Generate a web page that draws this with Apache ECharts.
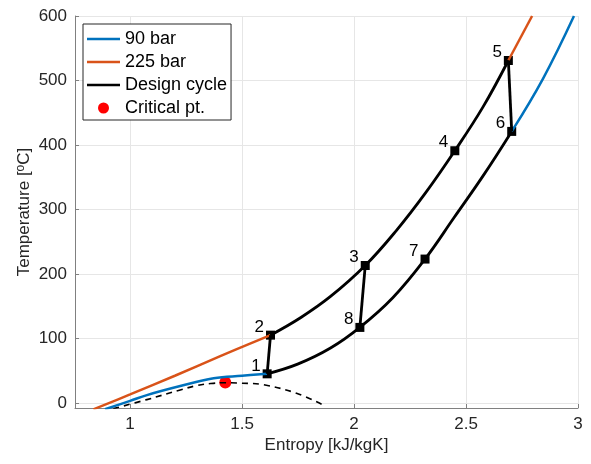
<!DOCTYPE html>
<html><head><meta charset="utf-8">
<script src="https://cdn.jsdelivr.net/npm/echarts@6/dist/echarts.min.js"></script>
<style>html,body{margin:0;padding:0;background:#fff}#c{width:591px;height:464px}</style>
</head><body><div id="c"></div>
<script>
// Axis ranges
const xMin = 0.754, xMax = 3, yMin = -8, yMax = 600;

// 90 bar isobar (blue)
const bar90Low = [[0.888,-10],[1.0,3],[1.075,12],[1.224,26],[1.373,38],[1.5,42],[1.612,45]];
const bar90High = [[2.704,421],[2.844,503],[2.982,600]];
// 225 bar isobar (orange)
const bar225Low = [[0.836,-10],[1.0,13],[1.2,42],[1.4,72],[1.627,105]];
const bar225High = [[2.689,531],[2.795,600]];
// Saturation dome (dashed)
const dome = [[0.925,-9],[1.075,5],[1.224,20],[1.30,27],[1.36,30],[1.422,31.2],[1.5,30.5],[1.597,28],[1.746,14.5],[1.872,-5]];
// Critical point
const critical = [[1.425,31.5]];
// Design cycle curves
const hpCurve = [[1.627,105],[1.761,132],[1.895,165],[2.050,213],[2.186,266],[2.320,326],[2.450,391],[2.576,459],[2.689,531]];
const lpCurve = [[2.704,421],[2.576,352],[2.446,287],[2.317,223],[2.173,163],[2.026,117],[1.895,85],[1.748,60],[1.612,45]];
const seg12 = [[1.612,45],[1.627,105]];
const seg56 = [[2.689,531],[2.704,421]];
const seg83 = [[2.026,117],[2.050,213]];
// State points
const stateNames = ['1','2','3','4','5','6','7','8'];
const stateS = [1.612,1.627,2.050,2.450,2.689,2.704,2.317,2.026];
const stateT = [45,105,213,391,531,421,223,117];

const FONT = 'Liberation Sans';
const blue = '#0072BD', orange = '#D95319', black = '#000000';
const lineIcon = 'path://M0 0H33V2.5H0Z';

const chart = echarts.init(document.getElementById('c'), null, {renderer:'canvas'});

function lineSeries(name, data, color, opts) {
  return Object.assign({
    name: name, type: 'line', data: data, showSymbol: false, symbol: 'none',
    smooth: 0.4, lineStyle: {color: color, width: 2.5}, itemStyle: {color: color},
    animation: false, silent: true
  }, opts || {});
}

const option = {
  animation: false,
  textStyle: {fontFamily: FONT},
  grid: {left: 75, right: 13, top: 16, bottom: 56, containLabel: false},
  legend: {
    orient: 'vertical', left: 83, top: 24, padding: [6, 4, 3, 4], itemGap: 5,
    itemWidth: 33, itemHeight: 11, borderColor: '#262626', borderWidth: 1,
    backgroundColor: '#ffffff', selectedMode: false,
    textStyle: {fontSize: 18, color: '#000', fontFamily: FONT},
    data: [
      {name: '90 bar', icon: lineIcon},
      {name: '225 bar', icon: lineIcon},
      {name: 'Design cycle', icon: lineIcon},
      {name: 'Critical pt.', icon: 'circle', itemStyle: {color: '#ff0000', opacity: 1}}
    ]
  },
  xAxis: {
    type: 'value', min: xMin, max: xMax,
    name: 'Entropy [kJ/kgK]', nameLocation: 'middle', nameGap: 29, nameMoveOverlap: false,
    nameTextStyle: {fontSize: 17, color: '#262626', fontFamily: FONT},
    axisLine: {onZero: false, lineStyle: {color: '#808080', width: 1}},
    axisTick: {show: true, inside: true, length: 4, lineStyle: {color: '#808080'}},
    axisLabel: {fontSize: 17, color: '#262626', margin: 8, showMinLabel: false, fontFamily: FONT},
    splitLine: {show: true, lineStyle: {color: '#e6e6e6', width: 1}}
  },
  yAxis: {
    type: 'value', min: yMin, max: yMax,
    name: 'Temperature [{sup|o}C]', nameLocation: 'middle', nameGap: 41, nameMoveOverlap: false,
    nameTextStyle: {fontSize: 17, color: '#262626', fontFamily: FONT, lineHeight: 19,
      rich: {sup: {fontSize: 12, lineHeight: 12, verticalAlign: 'top', padding: [0, 0, 5, 0], color: '#262626', fontFamily: FONT}}},
    axisLine: {show: true, onZero: false, lineStyle: {color: '#808080', width: 1}},
    axisTick: {show: true, inside: true, length: 4, lineStyle: {color: '#808080'}},
    axisLabel: {fontSize: 17, color: '#262626', margin: 8, showMinLabel: false, fontFamily: FONT},
    splitLine: {show: true, lineStyle: {color: '#e6e6e6', width: 1}}
  },
  series: [
    lineSeries('Saturation dome', dome, black, {lineStyle: {color: black, width: 1.6, type: [6, 5]}}),
    lineSeries('90 bar', bar90Low, blue),
    lineSeries('90 bar', bar90High, blue),
    lineSeries('225 bar', bar225Low, orange),
    lineSeries('225 bar', bar225High, orange),
    {
      name: 'Critical pt.', type: 'scatter', data: critical, symbol: 'circle', symbolSize: 12,
      itemStyle: {color: '#ff0000', opacity: 1}, silent: true
    },
    lineSeries('Design cycle', hpCurve, black, {lineStyle: {color: black, width: 2.8}}),
    lineSeries('Design cycle', lpCurve, black, {lineStyle: {color: black, width: 2.8}}),
    lineSeries('Design cycle', seg12, black, {smooth: false, lineStyle: {color: black, width: 2.8}}),
    lineSeries('Design cycle', seg56, black, {smooth: false, lineStyle: {color: black, width: 2.8}}),
    lineSeries('Design cycle', seg83, black, {smooth: false, lineStyle: {color: black, width: 2.8}}),
    {
      name: 'Design cycle', type: 'scatter', symbol: 'rect', symbolSize: 9,
      itemStyle: {color: black, opacity: 1}, silent: true,
      data: stateNames.map((n, i) => ({name: n, value: [stateS[i], stateT[i]]})),
      label: {show: true, position: 'left', distance: 2, offset: [0, -8],
        formatter: p => p.name, fontSize: 17, color: '#000', fontFamily: FONT}
    }
  ]
};
chart.setOption(option);
</script>
</body></html>
